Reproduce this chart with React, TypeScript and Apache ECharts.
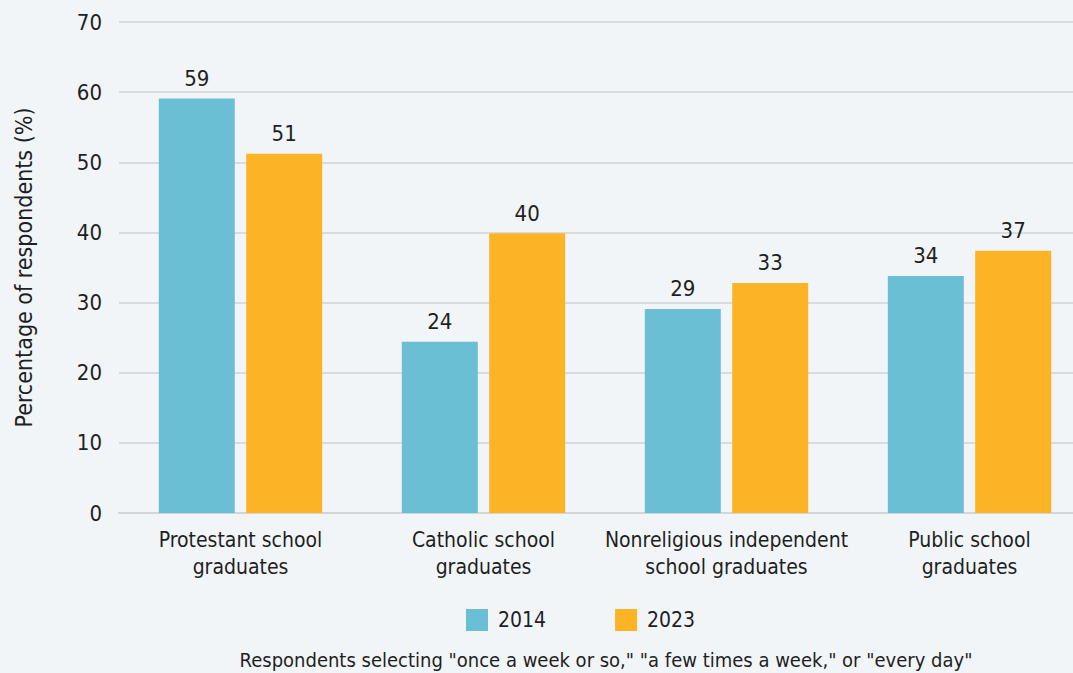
import React, { useEffect, useRef } from "react";
import * as echarts from "echarts";

const categories = [
  "Protestant school\ngraduates",
  "Catholic school\ngraduates",
  "Nonreligious independent\nschool graduates",
  "Public school\ngraduates",
];
const values2014 = [59.1, 24.4, 29.1, 33.8];
const values2023 = [51.2, 39.9, 32.8, 37.4];
const yTicks = [0, 10, 20, 30, 40, 50, 60, 70];

const FONT = "'DejaVu Sans Condensed', 'Liberation Sans Narrow', sans-serif";
const TEXT = "#1f1f1f";

export default function App() {
  const ref = useRef<HTMLDivElement>(null);
  useEffect(() => {
    if (!ref.current) return;
    const chart = echarts.init(ref.current, undefined, { renderer: "svg" });
    const label = {
      show: true,
      position: "top" as const,
      distance: 9,
      fontFamily: FONT,
      fontSize: 22,
      color: TEXT,
      formatter: (p: any) => String(Math.round(p.value)),
    };
    chart.setOption({
      animation: false,
      backgroundColor: "#f1f5f8",
      textStyle: { fontFamily: FONT },
      grid: {
        left: 119,
        width: 972,
        top: 22,
        bottom: 160,
        containLabel: false,
        outerBoundsMode: "none",
      },
      legend: {
        top: 604,
        left: 461,
        itemWidth: 22,
        itemHeight: 22,
        itemGap: 69,
        icon: "rect",
        textStyle: { fontFamily: FONT, fontSize: 21, color: TEXT, padding: [0, 0, 0, 5] },
        data: ["2014", "2023"],
      },
      graphic: [
        {
          type: "text",
          x: 606,
          y: 660,
          style: {
            text: 'Respondents selecting "once a week or so," "a few times a week," or "every day"',
            font: `20px ${FONT}`,
            fill: TEXT,
            align: "center",
            verticalAlign: "middle",
          },
        },
      ],
      xAxis: {
        type: "category",
        data: categories,
        axisTick: { show: false },
        axisLine: { lineStyle: { color: "#d3d6d9", width: 2 } },
        axisLabel: {
          fontFamily: FONT,
          fontSize: 21,
          color: TEXT,
          margin: 13,
          lineHeight: 27,
          interval: 0,
        },
      },
      yAxis: {
        type: "value",
        min: 0,
        max: 70,
        interval: 10,
        name: "Percentage of respondents (%)",
        nameLocation: "middle",
        nameGap: 84,
        nameTextStyle: { fontFamily: FONT, fontSize: 23, color: TEXT },
        axisLabel: {
          fontFamily: FONT,
          fontSize: 22,
          color: TEXT,
          margin: 17,
          formatter: (v: number) => (yTicks.includes(v) ? String(v) : ""),
        },
        splitLine: { lineStyle: { color: "#d9dcdf", width: 2 } },
      },
      series: [
        {
          name: "2014",
          type: "bar",
          data: values2014,
          barWidth: 76,
          barGap: "15%",
          itemStyle: { color: "#6bbfd4" },
          label,
        },
        {
          name: "2023",
          type: "bar",
          data: values2023,
          barWidth: 76,
          itemStyle: { color: "#fcb426" },
          label,
        },
      ],
    });
    return () => chart.dispose();
  }, []);
  return (
    <div
      ref={ref}
      style={{ position: "fixed", left: 0, top: 0, width: 1073, height: 673 }}
    />
  );
}
